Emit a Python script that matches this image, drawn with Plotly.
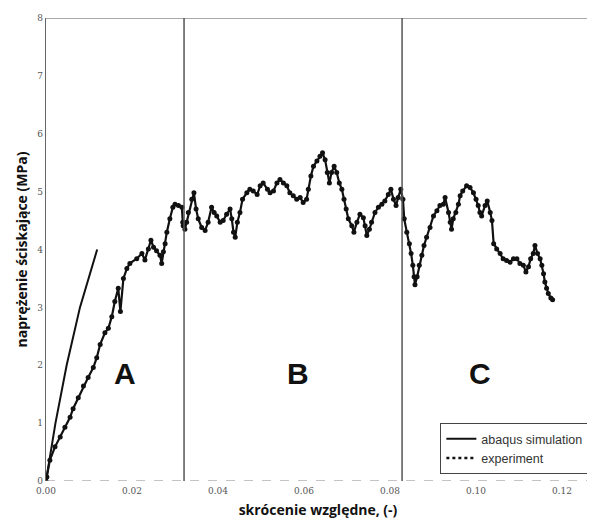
import plotly.graph_objects as go

# abaqus simulation (strain, stress)
sim_strain = [0.0, 0.0022, 0.0048, 0.0079, 0.0119]
sim_stress = [0.0, 1.0, 2.0, 3.0, 4.0]

# experiment (strain, stress)
exp_strain = [0.0000, 0.0002, 0.0009, 0.0021, 0.0033, 0.0044, 0.0056, 0.0063, 0.0075, 0.0087,
              0.0098, 0.0110, 0.0118, 0.0126, 0.0137, 0.0145, 0.0153, 0.0160, 0.0168, 0.0173,
              0.0180, 0.0188, 0.0195, 0.0211, 0.0223, 0.0230, 0.0238, 0.0244, 0.0250, 0.0257,
              0.0265, 0.0269, 0.0273, 0.0277, 0.0281, 0.0288, 0.0295, 0.0300, 0.0308, 0.0316,
              0.0318, 0.0319, 0.0323, 0.0327, 0.0331, 0.0339, 0.0344, 0.0349, 0.0354, 0.0362,
              0.0370, 0.0377, 0.0385, 0.0391, 0.0397, 0.0405, 0.0412, 0.0420, 0.0428, 0.0432,
              0.0436, 0.0440, 0.0445, 0.0451, 0.0457, 0.0467, 0.0474, 0.0482, 0.0491, 0.0498,
              0.0505, 0.0515, 0.0521, 0.0529, 0.0537, 0.0544, 0.0552, 0.0560, 0.0567, 0.0575,
              0.0583, 0.0591, 0.0598, 0.0606, 0.0610, 0.0616, 0.0622, 0.0630, 0.0637, 0.0643,
              0.0649, 0.0654, 0.0659, 0.0664, 0.0670, 0.0676, 0.0682, 0.0688, 0.0693, 0.0698,
              0.0703, 0.0711, 0.0716, 0.0723, 0.0730, 0.0738, 0.0742, 0.0746, 0.0752, 0.0757,
              0.0765, 0.0773, 0.0781, 0.0788, 0.0796, 0.0802, 0.0808, 0.0814, 0.0819, 0.0825,
              0.0830, 0.0833, 0.0839, 0.0845, 0.0849, 0.0853, 0.0856, 0.0858, 0.0863, 0.0868,
              0.0874, 0.0879, 0.0885, 0.0893, 0.0901, 0.0909, 0.0916, 0.0924, 0.0928, 0.0936,
              0.0940, 0.0943, 0.0947, 0.0953, 0.0959, 0.0963, 0.0969, 0.0978, 0.0986, 0.0994,
              0.1000, 0.1005, 0.1009, 0.1013, 0.1021, 0.1026, 0.1033, 0.1037, 0.1041, 0.1048,
              0.1056, 0.1063, 0.1071, 0.1079, 0.1087, 0.1095, 0.1102, 0.1110, 0.1116, 0.1122,
              0.1127, 0.1133, 0.1137, 0.1143, 0.1149, 0.1153, 0.1157, 0.1160, 0.1164, 0.1168,
              0.1174, 0.1178]
exp_stress = [0.00, 0.07, 0.36, 0.59, 0.76, 0.93, 1.10, 1.25, 1.44, 1.64,
              1.79, 1.96, 2.13, 2.36, 2.56, 2.64, 2.84, 3.10, 3.33, 2.93,
              3.50, 3.67, 3.76, 3.84, 3.93, 3.82, 4.01, 4.16, 4.04, 3.98,
              3.90, 3.76, 3.96, 4.10, 4.30, 4.53, 4.73, 4.78, 4.76, 4.73,
              4.47, 4.41, 4.35, 4.47, 4.64, 4.87, 4.98, 4.70, 4.53, 4.38,
              4.33, 4.47, 4.73, 4.64, 4.58, 4.47, 4.50, 4.61, 4.70, 4.53,
              4.30, 4.21, 4.47, 4.64, 4.87, 4.98, 5.04, 5.01, 4.95, 5.10,
              5.15, 5.04, 4.98, 5.01, 5.15, 5.21, 5.15, 5.10, 4.98, 4.93,
              4.87, 4.90, 4.81, 4.87, 5.04, 5.27, 5.44, 5.53, 5.61, 5.67,
              5.55, 5.33, 5.15, 5.33, 5.44, 5.33, 5.15, 5.04, 4.87, 4.70,
              4.53, 4.41, 4.30, 4.47, 4.61, 4.55, 4.41, 4.24, 4.35, 4.47,
              4.64, 4.73, 4.78, 4.84, 4.95, 5.04, 4.87, 4.76, 4.90, 5.04,
              4.87, 4.53, 4.30, 4.10, 3.93, 3.73, 3.53, 3.39, 3.53, 3.73,
              3.90, 4.07, 4.21, 4.38, 4.58, 4.67, 4.76, 4.78, 4.90, 4.64,
              4.47, 4.35, 4.53, 4.64, 4.78, 4.93, 5.01, 5.10, 5.07, 4.98,
              4.87, 4.76, 4.64, 4.58, 4.76, 4.84, 4.64, 4.50, 4.10, 4.01,
              3.93, 3.84, 3.81, 3.78, 3.84, 3.84, 3.76, 3.73, 3.61, 3.70,
              3.84, 3.93, 4.07, 3.93, 3.84, 3.73, 3.58, 3.44, 3.33, 3.24,
              3.16, 3.13]

# region separators and labels
sep_strain = [0.0321, 0.0828]
region_labels = ["A", "B", "C"]
region_x = [0.0184, 0.0586, 0.1009]
region_y = [1.85, 1.85, 1.85]

x_ticks = [0.00, 0.02, 0.04, 0.06, 0.08, 0.10, 0.12]
x_ticktext = ["0.00", "0.02", "0.04", "0.06", "0.08", "0.10", "0.12"]
y_ticks = [0, 1, 2, 3, 4, 5, 6, 7, 8]

X_MAX = 0.1265

fig = go.Figure()

fig.add_trace(go.Scatter(
    x=exp_strain, y=exp_stress, mode="lines+markers",
    line=dict(color="#111111", width=2.2),
    marker=dict(color="#111111", size=5, symbol="circle"),
    showlegend=False, hoverinfo="skip"))

fig.add_trace(go.Scatter(
    x=sim_strain, y=sim_stress, mode="lines",
    line=dict(color="#111111", width=2),
    name="abaqus simulation"))

fig.add_trace(go.Scatter(
    x=[None], y=[None], mode="lines",
    line=dict(color="#111111", width=2.5, dash="dot"),
    name="experiment"))

shapes = []
for sx in sep_strain:
    shapes.append(dict(type="line", xref="x", yref="y", x0=sx, x1=sx, y0=0.0, y1=8,
                       line=dict(color="#555555", width=1.5)))
shapes.append(dict(type="line", xref="x", yref="y", x0=0, x1=X_MAX, y0=8, y1=8,
                   line=dict(color="#555555", width=1.2)))
shapes.append(dict(type="line", xref="x", yref="y", x0=0, x1=X_MAX, y0=0, y1=0,
                   line=dict(color="#888888", width=1, dash="dash")))

annotations = []
for lab, ax_, ay_ in zip(region_labels, region_x, region_y):
    annotations.append(dict(x=ax_, y=ay_, xref="x", yref="y", text="<b>" + lab + "</b>",
                            showarrow=False,
                            font=dict(family="Liberation Sans, Arial", size=30, color="#111111")))

# the page body adds an 8px offset; the figure is sized so it fits the window
fig.update_layout(
    width=587, height=517,
    margin=dict(l=38, r=5, t=6, b=44),
    paper_bgcolor="white", plot_bgcolor="white",
    shapes=shapes, annotations=annotations,
    legend=dict(x=0.997, y=0.015, xanchor="right", yanchor="bottom",
                bgcolor="white", bordercolor="#444444", borderwidth=1,
                font=dict(family="Liberation Sans, Arial", size=12.5, color="#333333"),
                tracegroupgap=0, itemwidth=30),
    xaxis=dict(range=[0, X_MAX], tickvals=x_ticks, ticktext=x_ticktext,
               showgrid=False, zeroline=False, showline=False, ticks="",
               ticklabelstandoff=3,
               tickfont=dict(family="DejaVu Serif", size=9, color="#555555"),
               title=dict(text="<b>skrócenie względne, (-)</b>", standoff=10,
                          font=dict(family="Open Sans", size=14, color="#111111"))),
    yaxis=dict(range=[0, 8], tickvals=y_ticks, showgrid=False, zeroline=False,
               showline=True, linecolor="#666666", linewidth=1.2, ticks="",
               tickfont=dict(family="DejaVu Serif", size=9, color="#555555"),
               title=dict(text="<b>naprężenie ściskające (MPa)</b>", standoff=6,
                          font=dict(family="Open Sans", size=14, color="#111111"))),
)

fig.write_html("out.html")
